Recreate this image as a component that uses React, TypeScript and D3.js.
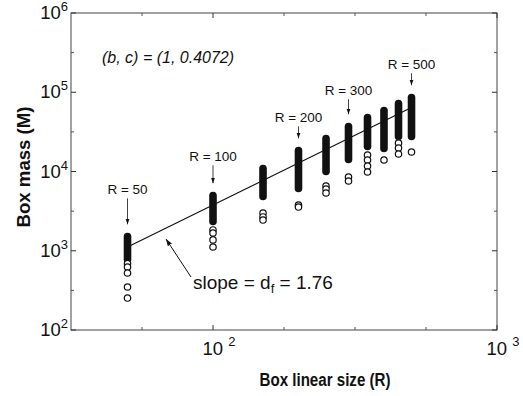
import React from 'react';
import * as d3 from 'd3';

// box linear size R for each column of boxes
const columnsR = [50, 100, 150, 200, 250, 300, 350, 400, 450, 500];
// the dense part of each column (largest and smallest mass of the packed circles)
const denseHigh = [1510, 4980, 10900, 18400, 26100, 37000, 48000, 58900, 72100, 85900];
const denseLow = [776, 2340, 4840, 6100, 10000, 14200, 20700, 19500, 27700, 27700];
// separate circles below each dense part
const sparse = [
  [690, 624, 524, 349, 253],
  [1830, 1675, 1370, 1115],
  [2995, 2670, 2440],
  [3780, 3560],
  [6560, 6015, 5355],
  [8525, 7590],
  [16150, 13970, 11730, 9860],
  [13970],
  [22900, 19800, 16630],
  [17620],
];

// fitted power law M = a * R^df
const fitSlope = 1.76;
const fitPrefactor = 1.14;
const fitRange = [50, 500];

const calloutR = [50, 100, 200, 300, 500];
const calloutLen = [26, 18, 12, 15, 12];

const yTicks = [1e2, 1e3, 1e4, 1e5, 1e6];
const yExp = ['2', '3', '4', '5', '6'];
const yMinor = [10 ** 2.5, 10 ** 3.5, 10 ** 4.5, 10 ** 5.5];
const xTicks = [1e2, 1e3];
const xExp = ['2', '3'];
const xMinor = [10 ** 1.75, 10 ** 2.25, 10 ** 2.5, 10 ** 2.75];

const W = 523;
const H = 396;
const FONT = '"Liberation Sans", Arial, Helvetica, sans-serif';

export default function App() {
  const margin = { top: 13, right: 26, bottom: 66, left: 71 };
  const x = d3.scaleLog().domain([10 ** 1.5, 1e3]).range([margin.left, W - margin.right]);
  const y = d3.scaleLog().domain([1e2, 1e6]).range([H - margin.bottom, margin.top]);
  const [x0, x1] = x.range();
  const [y0, y1] = y.range();
  const r = 3.2;

  const fitLine = d3.line<number>()
    .x(d => x(d))
    .y(d => y(fitPrefactor * Math.pow(d, fitSlope)));

  return (
    <svg width={W} height={H} style={{ display: 'block', background: '#fff' }} fontFamily={FONT}>
      <style>{`body{margin:0}`}</style>
      <defs>
        <marker id="ah" viewBox="0 0 10 10" refX="10" refY="5" markerWidth="7" markerHeight="7" orient="auto">
          <path d="M0,1.5 L10,5 L0,8.5 Z" fill="#111" />
        </marker>
      </defs>

      {/* frame */}
      <rect x={x0} y={y1} width={x1 - x0} height={y0 - y1} fill="none" stroke="#444" strokeWidth={1} />

      {/* ticks, inward on all four sides */}
      {yTicks.map(t => (
        <g key={'yt' + t} stroke="#333">
          <line x1={x0} x2={x0 + 5} y1={y(t)} y2={y(t)} />
          <line x1={x1} x2={x1 - 5} y1={y(t)} y2={y(t)} />
        </g>
      ))}
      {yMinor.map(t => (
        <g key={'ym' + t} stroke="#555">
          <line x1={x0} x2={x0 + 3} y1={y(t)} y2={y(t)} />
          <line x1={x1} x2={x1 - 3} y1={y(t)} y2={y(t)} />
        </g>
      ))}
      {xTicks.map(t => (
        <g key={'xt' + t} stroke="#333">
          <line x1={x(t)} x2={x(t)} y1={y0} y2={y0 - 5} />
          <line x1={x(t)} x2={x(t)} y1={y1} y2={y1 + 5} />
        </g>
      ))}
      {xMinor.map(t => (
        <g key={'xm' + t} stroke="#555">
          <line x1={x(t)} x2={x(t)} y1={y0} y2={y0 - 3} />
          <line x1={x(t)} x2={x(t)} y1={y1} y2={y1 + 3} />
        </g>
      ))}

      {/* tick labels */}
      {yTicks.map((t, i) => (
        <text key={'yl' + t} x={68} y={y(t) + 6} textAnchor="end" fontSize={18.5} fill="#111">
          10<tspan fontSize={13} dy={-8}>{yExp[i]}</tspan>
        </text>
      ))}
      {xTicks.map((t, i) => (
        <text key={'xl' + t} x={x(t) + 6} y={355} textAnchor="middle" fontSize={18.5} fill="#111">
          10 <tspan fontSize={13} dy={-9}>{xExp[i]}</tspan>
        </text>
      ))}

      {/* axis titles */}
      <text x={325} y={386} textAnchor="middle" fontSize={18} fontWeight="bold" fill="#111"
        textLength={131} lengthAdjust="spacingAndGlyphs">Box linear size (R)</text>
      <text transform={`translate(30,167) rotate(-90)`} textAnchor="middle" fontSize={18} fontWeight="bold" fill="#111"
        textLength={121} lengthAdjust="spacingAndGlyphs">Box mass (M)</text>

      {/* data: dense parts */}
      {columnsR.map((R, i) => (
        <rect key={'d' + R} x={x(R) - r - 0.6} width={2 * r + 1.2}
          y={y(denseHigh[i]) - r - 0.6} height={y(denseLow[i]) - y(denseHigh[i]) + 2 * r + 1.2}
          rx={r + 0.6} fill="#111" />
      ))}
      {/* data: separate circles */}
      {columnsR.map((R, i) => sparse[i].map((v, j) => (
        <circle key={'s' + R + '-' + j} cx={x(R)} cy={y(v)} r={r} fill="#fff" stroke="#111" strokeWidth={1.2} />
      )))}

      {/* power-law fit */}
      <path d={fitLine(fitRange) || ''} fill="none" stroke="#111" strokeWidth={1.2} />

      {/* R callouts */}
      {calloutR.map((R, i) => {
        const tip = y(denseHigh[columnsR.indexOf(R)]) - r - 9;
        const start = tip - calloutLen[i];
        return (
          <g key={'c' + R}>
            <line x1={x(R)} x2={x(R)} y1={start} y2={tip} stroke="#111" strokeWidth={0.8} markerEnd="url(#ah)" />
            <text x={x(R)} y={start - 4} textAnchor="middle" fontSize={13.5} fill="#111">R = {R}</text>
          </g>
        );
      })}

      {/* annotations */}
      <text x={102} y={63} fontSize={16} fontStyle="italic" fill="#111">(b, c) = (1, 0.4072)</text>
      <line x1={191} y1={277} x2={166} y2={239} stroke="#111" strokeWidth={1} markerEnd="url(#ah)" />
      <text x={193} y={289} fontSize={19} fill="#111">
        slope = d<tspan fontSize={13} dy={4}>f</tspan><tspan dy={-4}> = 1.76</tspan>
      </text>
    </svg>
  );
}
